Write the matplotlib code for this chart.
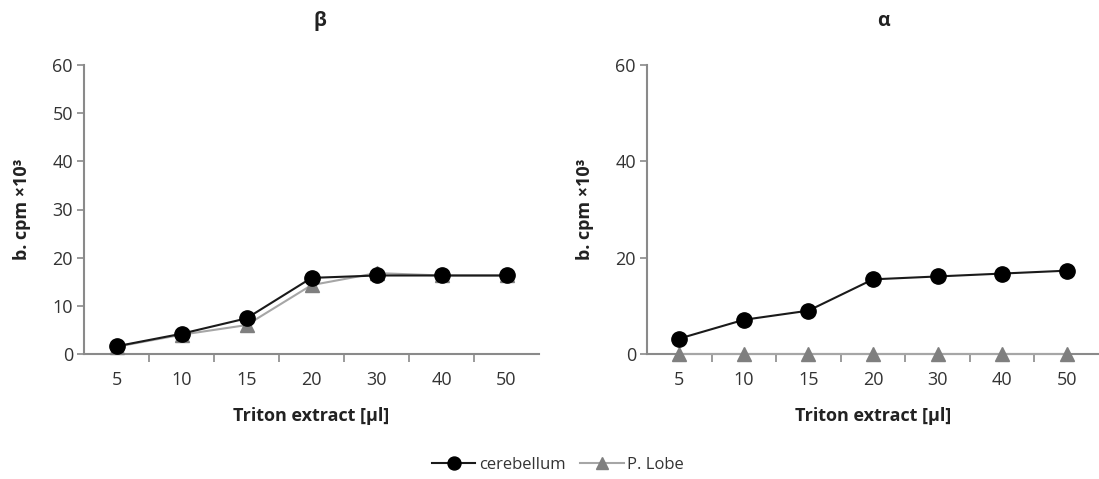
import matplotlib
matplotlib.use("Agg")
import matplotlib.pyplot as plt
import numpy as np

plt.rcParams['font.family'] = ['Open Sans', 'DejaVu Sans']

categories = ["5", "10", "15", "20", "30", "40", "50"]
beta_cerebellum = [1.6, 4.2, 7.4, 15.8, 16.3, 16.3, 16.3]
beta_plobe = [1.5, 4.0, 6.0, 14.3, 16.8, 16.3, 16.3]
alpha_cerebellum = [3.2, 7.1, 9.0, 15.5, 16.1, 16.7, 17.3]
alpha_plobe = [0, 0, 0, 0, 0, 0, 0]

panel_titles = ["\u03b2", "\u03b1"]
y_ticks_left = [0, 10, 20, 30, 40, 50, 60]
y_ticks_right = [0, 20, 40, 60]

fig = plt.figure(figsize=(10.99, 4.79), dpi=100)
ax1 = fig.add_axes([84/1099, 1-354/479, 455/1099, 289/479])
ax2 = fig.add_axes([647/1099, 1-354/479, 452/1099, 289/479])

axis_col = "#8a8a8a"
x = np.arange(len(categories)) + 0.5

for ax, cer, plo, title, yt, tx in [(ax1, beta_cerebellum, beta_plobe, panel_titles[0], y_ticks_left, 0.519),
                                    (ax2, alpha_cerebellum, alpha_plobe, panel_titles[1], y_ticks_right, 0.522)]:
    ax.plot(x, plo, color="#a6a6a6", lw=1.5, marker="^", markersize=10.5,
            markerfacecolor="#7f7f7f", markeredgecolor="#7f7f7f", label="P. Lobe", zorder=3, clip_on=False)
    ax.plot(x, cer, color="#1a1a1a", lw=1.5, marker="o", markersize=11,
            markerfacecolor="black", markeredgecolor="black", label="cerebellum", zorder=4, clip_on=False)
    ax.set_xlim(0, len(categories))
    ax.set_ylim(0, 60)
    ax.set_yticks(yt)
    ax.set_xticks(np.arange(1, len(categories)))
    ax.set_xticklabels([])
    ax.set_xticks(x, minor=True)
    ax.set_xticklabels(categories, minor=True)
    ax.tick_params(axis='x', which='major', length=6, width=1.2, color=axis_col, direction='out')
    ax.tick_params(axis='x', which='minor', length=0, pad=12, labelsize=13, labelcolor="#333333")
    ax.tick_params(axis='y', length=5, width=1.2, color=axis_col, labelsize=13, labelcolor="#333333", pad=3)
    for s in ["top", "right"]:
        ax.spines[s].set_visible(False)
    for s in ["left", "bottom"]:
        ax.spines[s].set_color(axis_col)
        ax.spines[s].set_linewidth(1.5)
    ax.set_xlabel("Triton extract [\u00b5l]", fontsize=13, fontweight='bold', labelpad=13, color="#222222")
    ax.set_ylabel("b. cpm \u00d710\u00b3", fontsize=13, fontweight='bold', color="#222222", labelpad=15)
    ax.set_title(title, fontsize=14, fontweight='bold', pad=28, color="#222222", x=tx)

h, l = ax1.get_legend_handles_labels()
fig.legend([h[1], h[0]], [l[1], l[0]], loc='center', bbox_to_anchor=(558/1099, 1-465/479),
           ncol=2, frameon=False, fontsize=12, handlelength=2.6, columnspacing=0.9,
           handletextpad=0.2, markerscale=0.85, labelcolor="#333333")

fig.savefig("out.png", dpi=100)
